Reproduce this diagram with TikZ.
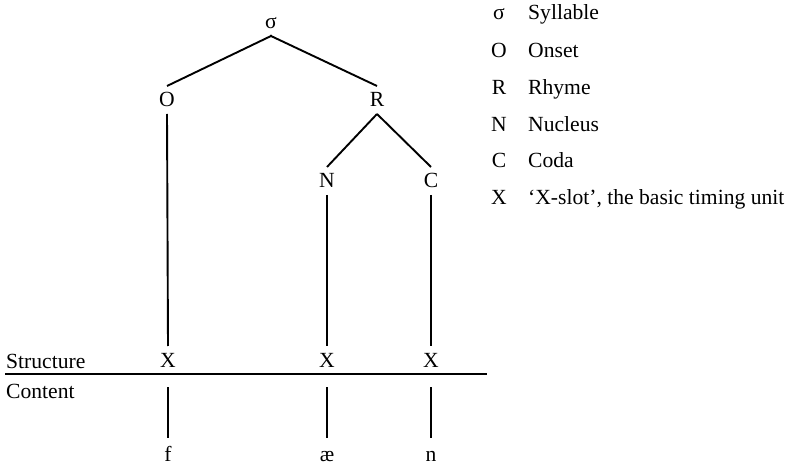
\documentclass[tikz,border=0pt]{standalone}
\usepackage{fontspec}
\setmainfont{Liberation Serif}
\usetikzlibrary{calc}
\begin{document}
\begin{tikzpicture}[x=1pt,y=-1pt,
  every node/.style={font=\fontsize{21.6}{25}\selectfont},
  tn/.style={anchor=base, inner sep=0pt, outer sep=7pt, text height=14pt, text depth=0pt},
  lab/.style={anchor=base west, inner sep=0pt},
  sym/.style={anchor=base, inner sep=0pt},
  ln/.style={line width=1.9pt, line cap=butt}]
\useasboundingbox (0,0) rectangle (793,465);
% tree
\node[tn] (S) at (271,29) {σ};
\node[tn] (O) at (167,107) {O};
\node[tn] (R) at (377,107) {R};
\node[tn] (N) at (327,188) {N};
\node[tn] (C) at (431,188) {C};
\node[tn] (X1) at (168,367) {X};
\node[tn] (X2) at (327,367) {X};
\node[tn] (X3) at (431,367) {X};
\node[tn] (f) at (168,461) {f};
\node[tn] (ae) at (327,461) {æ};
\node[tn] (n) at (431,461) {n};
\node[lab] (struct) at (6,368) {Structure};
\node[lab] (cont) at (6,398) {Content};
\coordinate (hl) at (5,374);
\coordinate (hr) at (487,374);
\draw[ln, shorten <=-1pt] (S.south) -- (O.north);
\draw[ln, shorten <=-1pt] (S.south) -- (R.north);
\draw[ln] (R.south) -- (N.north);
\draw[ln] (R.south) -- (C.north);
\draw[ln] (O.south) -- (X1.north);
\draw[ln] (N.south) -- (X2.north);
\draw[ln] (C.south) -- (X3.north);
\draw[ln] (hl) -- (hr);
\draw[ln, shorten <=13pt, shorten >=2pt] (X1.south) -- (f.north);
\draw[ln, shorten <=13pt, shorten >=2pt] (X2.south) -- (ae.north);
\draw[ln, shorten <=13pt, shorten >=2pt] (X3.south) -- (n.north);
% legend
\node[sym] (k1) at (499,20) {σ};
\node[lab] (l1) at (528,20) {Syllable};
\node[sym] (k2) at (499,58) {O};
\node[lab] (l2) at (528,58) {Onset};
\node[sym] (k3) at (499,95) {R};
\node[lab] (l3) at (528,95) {Rhyme};
\node[sym] (k4) at (499,132) {N};
\node[lab] (l4) at (528,132) {Nucleus};
\node[sym] (k5) at (499,168) {C};
\node[lab] (l5) at (528,168) {Coda};
\node[sym] (k6) at (499,205) {X};
\node[lab] (l6) at (528,205) {‘X-slot’, the basic timing unit};
\end{tikzpicture}
\end{document}
